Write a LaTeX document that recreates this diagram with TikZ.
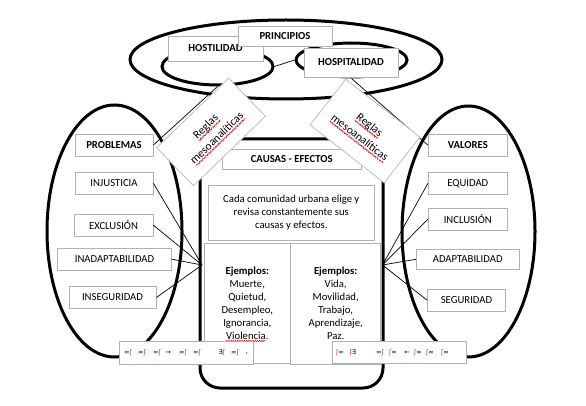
\documentclass[tikz,border=0pt]{standalone}
\usepackage{fontspec}
\setmainfont{Carlito}
\newfontfamily\glyphfont{DejaVu Sans}
\usetikzlibrary{shapes.geometric,decorations.pathmorphing,positioning}
\definecolor{boxgray}{RGB}{178,178,178}
\definecolor{wordred}{RGB}{230,30,30}
\tikzset{
  tbox/.style={draw=boxgray, line width=0.8, fill=white, inner sep=0, align=center},
  headbox/.style={tbox, font=\fontsize{10.7}{13}\selectfont\bfseries},
  rulebox/.style={tbox, transform shape, draw=boxgray!85, font=\fontsize{11.5}{16}\selectfont},
  ring/.style={ellipse, draw, line width=3, inner sep=0},
  link/.style={line width=0.7},
  squig/.style={draw=wordred, line width=0.6, decorate, decoration={snake, amplitude=0.7, segment length=2.2}},
  glyph/.style={font=\glyphfont\fontsize{6.5}{6.5}\selectfont, inner sep=0},
}
\newcommand{\redmark}{\textcolor{wordred}{ʃ}}
\begin{document}
\begin{tikzpicture}[x=1pt, y=-1pt, every node/.style={font=\fontsize{10.7}{13}\selectfont}]
		\useasboundingbox (0,0) rectangle (586,406);
		% principios
		\node [ring, minimum width=312, minimum height=79] (princE) at (286,59.5) {};
		\node [ring, minimum width=111, minimum height=37] (hostE) at (217.5,66.5) {};
		\node [ring, minimum width=111, minimum height=34] (hospE) at (351.5,60) {};
		\draw [link] (hostE.east) -- (hospE.west);
		\node [headbox, minimum width=95, minimum height=25] (host) at (215.5,48.5) {HOSTILIDAD};
		\node [headbox, minimum width=94, minimum height=20] (princ) at (285,36) {PRINCIPIOS};
		\node [headbox, minimum width=94, minimum height=29] (hosp) at (351,62.5) {HOSPITALIDAD};
		% problemas / valores
		\node [ring, minimum width=135, minimum height=252] (probE) at (114.5,231) {};
		\node [ring, minimum width=133, minimum height=251] (valE) at (468.5,231.5) {};
		\draw [line width=3, rounded corners=20] (200,139) rectangle (383,388);
		\coordinate (lc) at (202,265);
		\coordinate (rc) at (382.5,265);
		\node [headbox, minimum width=78, minimum height=22] (prob) at (114,145) {PROBLEMAS};
		\node [tbox, minimum width=78, minimum height=22] (inj) at (114,183.3) {INJUSTICIA};
		\node [tbox, minimum width=79, minimum height=22] (excl) at (113.5,225.2) {EXCLUSIÓN};
		\node [tbox, minimum width=114, minimum height=22] (inad) at (114.5,259.2) {INADAPTABILIDAD};
		\node [tbox, minimum width=87, minimum height=22] (inseg) at (112.5,297.5) {INSEGURIDAD};
		\node [headbox, minimum width=79, minimum height=22] (val) at (467.8,145.2) {VALORES};
		\node [tbox, minimum width=79, minimum height=22] (equi) at (467.8,183.3) {EQUIDAD};
		\node [tbox, minimum width=79, minimum height=22] (incl) at (467.8,219.2) {INCLUSIÓN};
		\node [tbox, minimum width=103, minimum height=20] (adap) at (467.7,259.3) {ADAPTABILIDAD};
		\node [tbox, minimum width=78, minimum height=22] (seg) at (466.5,300.2) {SEGURIDAD};
		\draw [link] (prob.east) -- (hostE.south);
		\draw [link] (val.west) -- (hospE.south);
		\foreach \b in {inj,excl,inad,inseg}
			\draw [link] (\b.east) -- (lc);
		\foreach \b in {equi,incl,adap,seg}
			\draw [link] (\b.west) -- (rc);
		% causas - efectos
		\node [headbox, minimum width=139, minimum height=20] (causas) at (291.7,159.3) {CAUSAS - EFECTOS};
		\node [tbox, minimum width=166, minimum height=55] (cada) at (291.3,212.5) {Cada comunidad urbana elige y\\revisa constantemente sus\\causas y efectos.};
		\node [tbox, minimum width=86.7, minimum height=120] (ejL) at (247.3,303.3) {\textbf{Ejemplos:}\\Muerte,\\Quietud,\\Desempleo,\\Ignorancia,\\Violencia.};
		\node [tbox, minimum width=90, minimum height=120.7] (ejR) at (335.7,303.7) {\textbf{Ejemplos:}\\Vida,\\Movilidad,\\Trabajo,\\Aprendizaje,\\Paz.};
		\draw [squig] (226,341) -- (265,341);
		% reglas
		\begin{scope}[shift={(211,132)}, rotate=44]
			\node [rulebox, minimum width=100, minimum height=53] (reglasL) at (0,0) {Reglas\\mesoanalíticas};
			\draw [squig] (-15,-2) -- (15,-2);
			\draw [squig] (-34,14) -- (34,14);
		\end{scope}
		\begin{scope}[shift={(365,131)}, rotate=-38]
			\node [rulebox, minimum width=94, minimum height=58] (reglasR) at (0,0) {Reglas\\mesoanalíticas};
			\draw [squig] (-15,-2) -- (15,-2);
			\draw [squig] (-34,14) -- (34,14);
		\end{scope}
		% bottom
		\node [tbox, minimum width=134, minimum height=23] (botL) at (186,353.3) {};
		\node [tbox, minimum width=134, minimum height=22] (botR) at (399.7,352.5) {};
		\foreach \gx/\gt [count=\i] in {128/∞\redmark, 142/∞\redmark, 157/∞\redmark, 168/→, 183/∞\redmark, 197/∞\redmark, 222/Ǝ\redmark, 235/∞\redmark, 247/{,}}
			\node [glyph] (gl\i) at (\gx,353) {\gt};
		\foreach \gx/\gt [count=\i] in {340/\redmark∞, 353/\redmark Ǝ, 380/∞\redmark, 393/\redmark∞, 407/←, 418/\redmark∞, 430/\redmark∞, 445/\redmark∞}
			\node [glyph] (gr\i) at (\gx,352.5) {\gt};
	\end{tikzpicture}
\end{document}
